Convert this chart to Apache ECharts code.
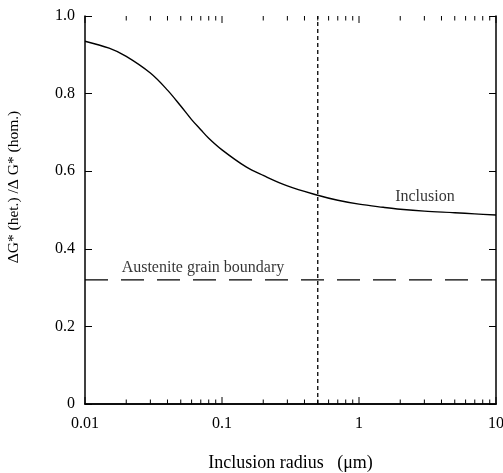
<!DOCTYPE html>
<html>
<head>
<meta charset="utf-8">
<script src="https://cdn.jsdelivr.net/npm/echarts@6/dist/echarts.min.js"></script>
<style>
  html, body { margin: 0; padding: 0; background: #fff; }
  #chart { width: 503px; height: 473px; }
</style>
</head>
<body>
<div id="chart"></div>
<script>
// Inclusion radius (µm) and the ratio of heterogeneous to homogeneous barrier
const radius = [0.01, 0.015, 0.02, 0.03, 0.04, 0.05, 0.06, 0.07, 0.08, 0.1, 0.15, 0.2, 0.3, 0.5, 0.7, 1, 1.5, 2, 3, 5, 7, 10];
const ratio  = [0.935, 0.917, 0.896, 0.853, 0.809, 0.768, 0.733, 0.707, 0.685, 0.655, 0.611, 0.589, 0.562, 0.538, 0.525, 0.515, 0.507, 0.502, 0.497, 0.493, 0.490, 0.487];

// Austenite grain boundary level and marked radius
const boundaryLevel = 0.32;
const markedRadius = 0.5;

// Axis ticks
const xMajorTicks = [0.01, 0.1, 1, 10];
const xMinorTicks = [0.02, 0.03, 0.04, 0.05, 0.06, 0.07, 0.08, 0.09,
                     0.2, 0.3, 0.4, 0.5, 0.6, 0.7, 0.8, 0.9,
                     2, 3, 4, 5, 6, 7, 8, 9];
const yTicks = [0, 0.2, 0.4, 0.6, 0.8, 1.0];

// Text annotations: [x, y, text]
const inclusionLabel = [3.03, 0.534, 'Inclusion'];
const boundaryLabel = [0.0726, 0.35, 'Austenite grain boundary'];

const FONT = '"Liberation Serif", "Times New Roman", serif';
const xMin = xMajorTicks[0], xMax = xMajorTicks[xMajorTicks.length - 1];
const yMin = yTicks[0], yMax = yTicks[yTicks.length - 1];

const chart = echarts.init(document.getElementById('chart'), null, { renderer: 'canvas' });

const axisLineStyle = { show: true, lineStyle: { color: '#000', width: 1.5 } };
const textStyle = { color: '#000', fontFamily: FONT, fontSize: 16 };

// Tick marks along the bottom and top edges: [value, length]
const xTickMarks = xMajorTicks.map(v => [v, 7]).concat(xMinorTicks.map(v => [v, 4.5]));

chart.setOption({
  animation: false,
  backgroundColor: '#fff',
  grid: { left: 85, right: 7, top: 16, bottom: 69, containLabel: false, outerBoundsMode: 'none' },
  xAxis: [
    {
      type: 'log', logBase: 10, min: xMin, max: xMax,
      position: 'bottom',
      axisLine: axisLineStyle,
      axisTick: { show: false },
      axisLabel: {
        ...textStyle, margin: 12,
        formatter: v => String(+(+v).toPrecision(3))
      },
      splitLine: { show: false },
      name: 'Inclusion radius   (\u03bcm)',
      nameLocation: 'middle',
      nameGap: 50,
      nameTextStyle: { ...textStyle, fontSize: 18 }
    },
    {
      type: 'log', logBase: 10, min: xMin, max: xMax,
      position: 'top',
      axisLine: axisLineStyle,
      axisTick: { show: false },
      axisLabel: { show: false },
      splitLine: { show: false }
    }
  ],
  yAxis: [
    {
      type: 'value', min: yMin, max: yMax, interval: 0.2,
      position: 'left',
      axisLine: axisLineStyle,
      axisTick: { show: true, inside: true, length: 7, lineStyle: { color: '#000', width: 1 } },
      axisLabel: {
        ...textStyle, margin: 10,
        formatter: v => (v === 0 ? '0' : v.toFixed(1))
      },
      splitLine: { show: false }
    },
    {
      type: 'value', min: yMin, max: yMax, interval: 0.2,
      position: 'right',
      axisLine: axisLineStyle,
      axisTick: { show: true, inside: true, length: 7, lineStyle: { color: '#000', width: 1 } },
      axisLabel: { show: false },
      splitLine: { show: false }
    }
  ],
  graphic: [
    {
      type: 'text',
      x: 14, y: 187,
      rotation: Math.PI / 2,
      style: {
        text: '\u0394G* (het.) /\u0394 G* (hom.)',
        fill: '#000',
        font: '15.5px ' + FONT,
        textAlign: 'center',
        textVerticalAlign: 'middle'
      }
    }
  ],
  series: [
    {
      name: 'Inclusion',
      type: 'line',
      data: radius.map((r, i) => [r, ratio[i]]),
      smooth: 0.35,
      showSymbol: false,
      symbol: 'none',
      lineStyle: { color: '#000', width: 1.4 },
      z: 5
    },
    {
      name: 'Austenite grain boundary',
      type: 'line',
      data: [[xMin, boundaryLevel], [xMax, boundaryLevel]],
      symbol: 'none',
      lineStyle: { color: '#000', width: 1.3, type: [23, 13] },
      z: 4
    },
    {
      name: 'Marked radius',
      type: 'line',
      data: [[markedRadius, yMin], [markedRadius, yMax]],
      symbol: 'none',
      lineStyle: { color: '#000', width: 1.3, type: [4, 3] },
      z: 4
    },
    {
      name: 'X ticks',
      type: 'custom',
      silent: true,
      clip: false,
      data: xTickMarks,
      encode: { x: 0 },
      renderItem: (params, api) => {
        const v = api.value(0);
        const len = api.value(1);
        const b = api.coord([v, yMin]);
        const t = api.coord([v, yMax]);
        const st = { stroke: '#000', lineWidth: 1 };
        return {
          type: 'group',
          children: [
            { type: 'line', shape: { x1: b[0], y1: b[1], x2: b[0], y2: b[1] - len }, style: st },
            { type: 'line', shape: { x1: t[0], y1: t[1], x2: t[0], y2: t[1] + len }, style: st }
          ]
        };
      }
    },
    {
      name: 'Annotations',
      type: 'scatter',
      silent: true,
      symbolSize: 0,
      data: [inclusionLabel, boundaryLabel].map(a => ({ value: [a[0], a[1]], label: { formatter: a[2] } })),
      label: {
        show: true,
        position: 'inside',
        ...textStyle
      }
    }
  ]
});
</script>
</body>
</html>
